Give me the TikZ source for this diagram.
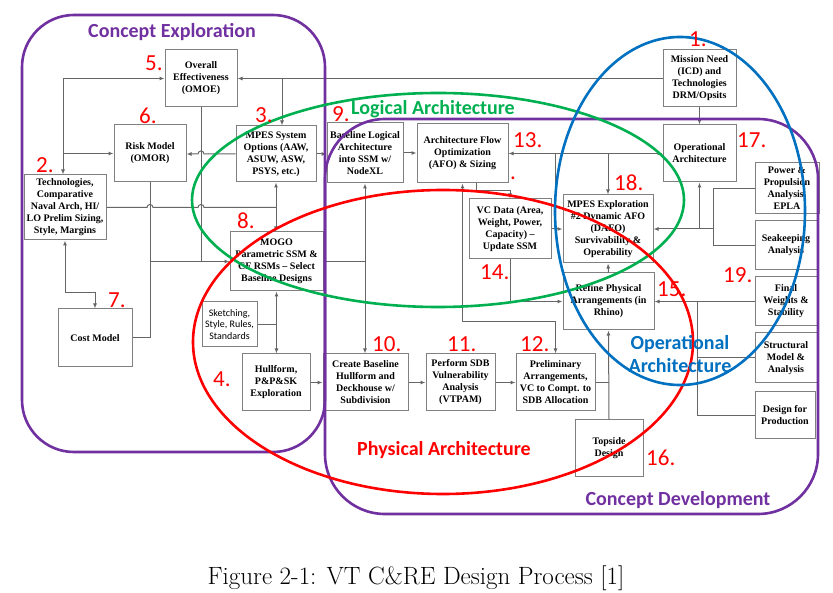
\documentclass[tikz,border=0pt]{standalone}
\usepackage{fontspec}
\newfontfamily\tnr[Ligatures=TeX]{Liberation Serif}
\newfontfamily\carl{Carlito}
\usetikzlibrary{arrows.meta,calc}
\definecolor{cpurple}{HTML}{7030A0}
\definecolor{cgreen}{HTML}{00B050}
\definecolor{cred}{HTML}{FF0000}
\definecolor{cblue}{HTML}{0070C0}
\definecolor{boxgray}{HTML}{808080}
\definecolor{lngray}{HTML}{666666}
\tikzset{
  box/.style={draw=boxgray, line width=1pt, fill=white, inner sep=0pt, align=center,
    font=\tnr\bfseries\fontsize{10}{12}\selectfont},
  sbox/.style={box, font=\carl\fontsize{10}{11.5}\selectfont},
  ln/.style={draw=lngray, line width=1pt},
  arr/.style={ln, -{Latex[length=5pt,width=4pt]}},
  darr/.style={ln, {Latex[length=5pt,width=4pt]}-{Latex[length=5pt,width=4pt]}},
  num/.style={text=cred, font=\carl\fontsize{23}{26}\selectfont, inner sep=0pt, anchor=base west},
  ttl/.style={font=\carl\bfseries\fontsize{20}{23}\selectfont, inner sep=0pt, anchor=base, align=center},
  outline/.style={line width=2.6pt}
}
\begin{document}
\begin{tikzpicture}[x=1pt,y=-1pt]
\useasboundingbox (0,0) rectangle (833,593);
% boxes
\node[box, minimum width=73pt, minimum height=57pt] (mission) at (699.5,78.5) {Mission Need\\(ICD) and\\Technologies\\DRM/Opsits};
\node[box, minimum width=73pt, minimum height=57pt] (oparch) at (699.5,153.5) {Operational\\Architecture};
\node[box, minimum width=72pt, minimum height=57pt] (omoe) at (201,78.5) {Overall\\Effectiveness\\(OMOE)};
\node[box, minimum width=72pt, minimum height=57pt] (risk) at (150,153.5) {Risk Model\\(OMOR)};
\node[box, minimum width=80pt, minimum height=56pt] (mpesopt) at (276,154) {MPES System\\Options (AAW,\\ASUW, ASW,\\PSYS, etc.)};
\node[box, minimum width=76pt, minimum height=60pt] (bla) at (365,153) {Baseline Logical\\Architecture\\into SSM w/\\NodeXL};
\node[box, minimum width=91pt, minimum height=59pt] (afo) at (462.5,153.5) {Architecture Flow\\Optimization\\(AFO) \& Sizing};
\node[box, minimum width=82pt, minimum height=65pt] (tech) at (65,207.5) {Technologies,\\Comparative\\Naval Arch, HI/\\LO Prelim Sizing,\\Style, Margins};
\node[box, minimum width=93pt, minimum height=59pt] (mogo) at (276.5,261.5) {MOGO\\Parametric SSM \&\\CF RSMs – Select\\Baseline Designs};
\node[box, minimum width=90pt, minimum height=68pt] (mpesexp) at (608,229) {MPES Exploration\\\#2 Dynamic AFO\\(DAFO)\\Survivability \&\\Operability};
\node[box, minimum width=82pt, minimum height=60pt] (vc) at (510,229) {VC Data (Area,\\Weight, Power,\\Capacity) –\\Update SSM};
\node[box, minimum width=91pt, minimum height=57pt] (refine) at (608.5,301.5) {Refine Physical\\Arrangements (in\\Rhino)};
\node[box, minimum width=64pt, minimum height=51pt] (power) at (787,188.5) {Power \&\\Propulsion\\Analysis,\\EPLA};
\node[box, minimum width=62pt, minimum height=49pt] (seakeep) at (786,245.5) {Seakeeping\\Analysis};
\node[box, minimum width=62pt, minimum height=49pt] (finalw) at (786,301.5) {Final\\Weights \&\\Stability};
\node[box, minimum width=62pt, minimum height=50pt] (struct) at (786,358) {Structural\\Model \&\\Analysis};
\node[box, minimum width=60pt, minimum height=47pt] (dfp) at (785,415.5) {Design for\\Production};
\node[box, minimum width=74pt, minimum height=58pt] (cost) at (95,338) {Cost Model};
\node[sbox, minimum width=55pt, minimum height=45pt] (sketch) at (229.5,324.5) {Sketching,\\Style, Rules,\\Standards};
\node[box, minimum width=68pt, minimum height=57pt] (hull) at (276,382.5) {Hullform,\\P\&P\&SK\\Exploration};
\node[box, minimum width=85pt, minimum height=57pt] (create) at (365.5,382.5) {Create Baseline\\Hullform and\\Deckhouse w/\\Subdivision};
\node[box, minimum width=69pt, minimum height=57pt] (perform) at (460.5,382.5) {Perform SDB\\Vulnerability\\Analysis\\(VTPAM)};
\node[box, minimum width=79pt, minimum height=57pt] (prelim) at (555.5,382.5) {Preliminary\\Arrangements,\\VC to Compt. to\\SDB Allocation};
\node[box, minimum width=68pt, minimum height=57pt] (topside) at (609,448.5) {Topside\\Design};
% junction coordinates
\coordinate (jL) at (63,78.5);
\coordinate (jO) at (282,78.5);
\coordinate (jT) at (276,207.5);
\coordinate (j555) at (555,153.5);
\coordinate (j608) at (608,153.5);
\coordinate (k1) at (462.5,322);
\coordinate (k2) at (699.5,229);
\coordinate (k3) at (713,229);
\coordinate (k4) at (697,301.5);
% connectors
\draw[arr] (jL) -- (omoe.west);
\draw[arr] (jL) -- (jL |- tech.north);
\draw[arr] (jL |- risk.west) -- (risk.west);
\draw[arr] (mission.west) -- (omoe.east);
\draw[arr] (jO) -- (jO |- mpesopt.north);
\draw[arr] (mpesopt.west) -- (204,154) .. controls (204,150) and (198,150) .. (198,154) -- (risk.east |- mpesopt.west);
\draw[ln] (tech.east) -- (147,207.5) .. controls (147,203.5) and (153,203.5) .. (153,207.5) -- (198,207.5) .. controls (198,203.5) and (204,203.5) .. (204,207.5) -- (jT);
\draw[arr] (jT) -- (mpesopt.south);
\draw[arr] (jT) -- (jT |- mogo.north);
\draw[ln] (omoe.south) -- (omoe.south |- mogo.west);
\draw[ln] (risk.south) -- (risk.south |- cost.east) -- (cost.east);
\draw[arr] (risk.south |- mogo.west) -- (mogo.west);
\draw[ln] (mogo.east) -- (bla.south |- mogo.east);
\draw[darr] (bla.south) -- (bla.south |- create.north);
\draw[arr] (mpesopt.east) -- (bla.west |- mpesopt.east);
\draw[arr] (bla.east) -- (afo.west |- bla.east);
\draw[darr] (afo.east) -- (oparch.west);
\draw[arr] (j608) -- (mpesexp.north);
\draw[ln] (j555) -- (j555 |- vc.east);
\draw[arr] (vc.east) -- (mpesexp.west);
\draw[arr] ($(afo.south)+(13.5,0)$) -- ($(afo.south)+(13.5,7)$) -| (vc.north);
\draw[arr] (k1) -- (afo.south);
\draw[arr] (k1) -| (prelim.north);
\draw[arr] (vc.south) |- (refine.west);
\draw[arr] (k2) -- (oparch.south);
\draw[arr] (k3) -- (mpesexp.east);
\draw[ln] (power.west) -- (power.west -| k3) -- (k3 |- seakeep.west) -- (seakeep.west);
\draw[arr] (finalw.west) -- (refine.east |- finalw.west);
\draw[ln] (k4) -- (k4 |- dfp.west) -- (dfp.west);
\draw[ln] (struct.west) -- (k4 |- struct.west);
\draw[arr] (refine.north) -- (mpesexp.south);
\draw[arr] (topside.north) -- (refine.south);
\draw[ln] (prelim.east) -- (topside.north |- prelim.east);
\draw[arr] (mission.south) -- (oparch.north);
\draw[arr] (hull.east) -- (create.west);
\draw[arr] (create.east) -- (perform.west);
\draw[arr] (perform.east) -- (prelim.west);
\draw[ln] (sketch.east) -- (sketch.east -| hull.north);
\draw[darr] (mogo.south) -- (mogo.south |- hull.north);
\draw[darr] (tech.south) -- (65,293) -- (95,293) -- (cost.north);
% outlines
\draw[cpurple, outline, rounded corners=52pt] (22,15) rectangle (325,452);
\draw[cpurple, outline, rounded corners=60pt] (325,119) rectangle (818,514);
\draw[cgreen, outline] (438,200) ellipse [x radius=246, y radius=107];
\draw[cred, outline] (443,342) ellipse [x radius=250, y radius=152];
\draw[cblue, outline] (680,211) ellipse [x radius=125, y radius=174];
% titles
\node[ttl, text=cpurple] (tce) at (172,38) {Concept Exploration};
\node[ttl, text=cgreen] (tla) at (433,115) {Logical Architecture};
\node[ttl, text=cred] (tpa) at (444,456) {Physical Architecture};
\node[ttl, text=cpurple] (tcd) at (678,505) {Concept Development};
\node[ttl, text=cblue] (toa1) at (680,350) {Operational};
\node[ttl, text=cblue] (toa2) at (680,373) {Architecture};
% numbers
\node[num] (n1) at (689,47) {1.};
\node[num] (n17) at (737,148) {17.};
\node[num] (n5) at (145,71) {5.};
\node[num] (n6) at (139,124) {6.};
\node[num] (n3) at (255,123) {3.};
\node[num] (n2) at (36,173) {2.};
\node[num] (n9) at (332,122) {9.};
\node[num] (n13) at (513,148) {13.};
\node[num] (ndot) at (510,180) {.};
\node[num] (n14) at (480,280) {14.};
\node[num] (n18) at (614,191) {18.};
\node[num] (n15) at (657,297) {15.};
\node[num] (n19) at (723,283) {19.};
\node[num] (n8) at (237,229) {8.};
\node[num] (n7) at (108,308) {7.};
\node[num] (n4) at (213,387) {4.};
\node[num] (n10) at (372,352) {10.};
\node[num] (n11) at (447,352) {11.};
\node[num] (n12) at (520,352) {12.};
\node[num] (n16) at (646,466) {16.};
% caption
\node[font=\fontsize{25}{30}\selectfont, anchor=base, inner sep=0pt] (cap) at (416,584) {Figure 2-1: VT C\&RE Design Process [1]};
\end{tikzpicture}
\end{document}
